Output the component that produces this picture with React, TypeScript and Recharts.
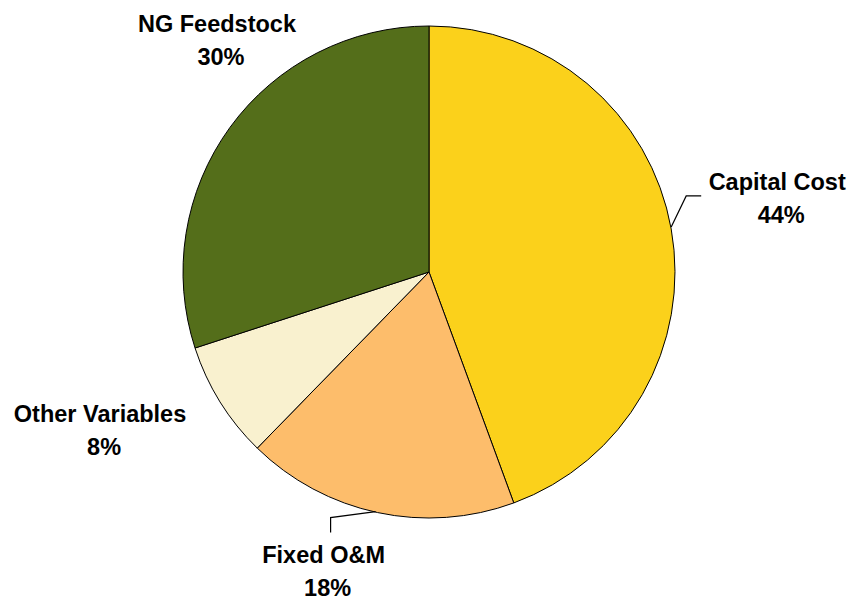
import * as React from "react";
import { PieChart, Pie, Cell } from "recharts";

const categories = ["Capital Cost", "Fixed O&M", "Other Variables", "NG Feedstock"];
const shares = [44.4, 17.9, 7.7, 30.0];

const colors = ["#FBD11B", "#FDBD6B", "#F9F1CF", "#546E1A"];

// label placement relative to the slice's outer edge point
const labelPos = [
  { dx: 106, dy: -47, leader: [[0, -2], [15, -33], [30, -33]] },
  { dx: -54, dy: 42, leader: [[-2, -1], [-47, 5], [-47, 20]] },
  { dx: -120, dy: 12, leader: null },
  { dx: -13, dy: -103, leader: null }
];

const data = categories.map((name, i) => ({ name, value: shares[i] }));

const RADIAN = Math.PI / 180;

function renderLabel(props: any) {
  const { cx, cy, midAngle, outerRadius, index, name, percent } = props;
  const ex = cx + outerRadius * Math.cos(-midAngle * RADIAN);
  const ey = cy + outerRadius * Math.sin(-midAngle * RADIAN);
  const pos = labelPos[index];
  const tx = ex + pos.dx;
  const ty = ey + pos.dy;
  const font = {
    fontFamily: "Liberation Sans, Arial, sans-serif",
    fontWeight: "bold",
    fontSize: 23.5,
    fill: "#000"
  };
  return (
    <g>
      {pos.leader && (
        <polyline
          points={pos.leader.map(([x, y]) => `${ex + x},${ey + y}`).join(" ")}
          fill="none"
          stroke="#000"
          strokeWidth={1.2}
        />
      )}
      <text x={tx} y={ty} textAnchor="middle" dominantBaseline="central" {...font}>
        {name}
      </text>
      <text x={tx + 4} y={ty + 33} textAnchor="middle" dominantBaseline="central" {...font}>
        {Math.round(percent * 100)}%
      </text>
    </g>
  );
}

export default function App() {
  return (
    <div style={{ position: "absolute", left: 0, top: 0 }}>
      <PieChart width={848} height={601} margin={{ top: 0, right: 0, bottom: 0, left: 0 }}>
        <Pie
          data={data}
          dataKey="value"
          nameKey="name"
          cx={429}
          cy={272}
          outerRadius={246}
          startAngle={90}
          endAngle={-270}
          stroke="#000"
          strokeWidth={1}
          label={renderLabel}
          labelLine={false}
          isAnimationActive={false}
        >
          {data.map((d, i) => (
            <Cell key={d.name} fill={colors[i]} />
          ))}
        </Pie>
      </PieChart>
    </div>
  );
}
